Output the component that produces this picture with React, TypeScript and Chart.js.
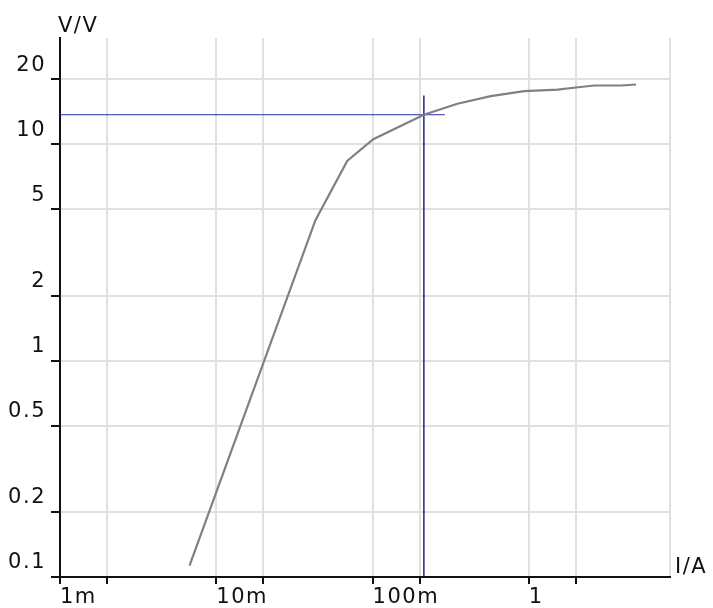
import React, { useEffect, useRef } from "react";
import { Chart, registerables } from "chart.js";

Chart.register(...registerables);

// ---- data ----
const currentA = [0.00674, 0.0431, 0.0688, 0.101, 0.213, 0.349, 0.57, 0.933, 1.53, 2.0, 2.62, 3.89, 4.85];
const voltageV = [0.113, 4.46, 8.37, 10.55, 13.7, 15.4, 16.7, 17.6, 17.9, 18.3, 18.7, 18.7, 18.9];

const xTickValues = [0.001, 0.002, 0.01, 0.02, 0.1, 0.2, 1, 2, 8];
const xTickLabels = ["1m", "", "10m", "", "100m", "", "1", "", ""];
const yTickValues = [0.1, 0.2, 0.5, 1, 2, 5, 10, 20];
const yTickLabels = ["0.1", "0.2", "0.5", "1", "2", "5", "10", "20"];

const xMin = 0.001;
const xMax = 8;
const yMin = 0.1;
const yMax = 31;

const cursorI = 0.213;
const cursorV = 13.7;
const cursorHEndI = 0.29;
const cursorVTopV = 16.8;

const xTitle = "I/A";
const yTitle = "V/V";

const FONT = '"DejaVu Sans", Verdana, sans-serif';
const FONT_SIZE = 21;
const SPACING = "1.5px";

const titlePlugin = {
  id: "axisTitles",
  beforeDraw(chart: any) {
    chart.ctx.letterSpacing = SPACING;
  },
  afterDraw(chart: any) {
    const ctx = chart.ctx;
    const { left, right, top, bottom } = chart.chartArea;
    ctx.save();
    ctx.letterSpacing = SPACING;
    ctx.font = `${FONT_SIZE}px ${FONT}`;
    ctx.fillStyle = "#111";
    ctx.textAlign = "left";
    ctx.textBaseline = "alphabetic";
    ctx.fillText(yTitle, left - 2, top - 6);
    ctx.fillText(xTitle, right + 5, bottom - 4);
    ctx.restore();
  },
};

export default function App() {
  const ref = useRef<HTMLCanvasElement | null>(null);

  useEffect(() => {
    if (!ref.current) return;
    const chart = new Chart(ref.current, {
      type: "line",
      data: {
        datasets: [
          {
            data: currentA.map((x, i) => ({ x, y: voltageV[i] })),
            borderColor: "#808080",
            borderWidth: 2.2,
            pointRadius: 0,
            tension: 0,
            fill: false,
          },
          {
            data: [
              { x: xMin, y: cursorV },
              { x: cursorHEndI, y: cursorV },
            ],
            borderColor: "#2a2aa6",
            borderWidth: 1.2,
            pointRadius: 0,
            fill: false,
          },
          {
            data: [
              { x: cursorI, y: yMin },
              { x: cursorI, y: cursorVTopV },
            ],
            borderColor: "#00007a",
            borderWidth: 1.3,
            pointRadius: 0,
            fill: false,
          },
        ],
      },
      options: {
        responsive: false,
        animation: false,
        events: [],
        layout: { padding: { top: 38, right: 43, left: 0, bottom: 0 } },
        plugins: {
          legend: { display: false },
          tooltip: { enabled: false },
        },
        scales: {
          x: {
            type: "logarithmic",
            min: xMin,
            max: xMax,
            afterBuildTicks: (scale: any) => {
              scale.ticks = xTickValues.map((v) => ({ value: v }));
            },
            afterFit: (scale: any) => {
              scale.height = 31;
            },
            grid: {
              color: "#e0e0e0",
              lineWidth: 2,
              tickLength: 7,
              tickWidth: 2,
              tickColor: (ctx: any) =>
                ctx.tick && ctx.tick.value === xMax ? "rgba(0,0,0,0)" : "#111",
            },
            border: { color: "#111", width: 2 },
            ticks: {
              autoSkip: false,
              maxRotation: 0,
              align: "start",
              padding: 1,
              color: "#111",
              font: { family: FONT, size: FONT_SIZE },
              callback: (_v: any, i: number) => xTickLabels[i],
            },
          },
          y: {
            type: "logarithmic",
            min: yMin,
            max: yMax,
            afterBuildTicks: (scale: any) => {
              scale.ticks = yTickValues.map((v) => ({ value: v }));
            },
            afterFit: (scale: any) => {
              scale.width = 60;
            },
            grid: {
              color: "#e0e0e0",
              lineWidth: 2,
              tickLength: 9,
              tickWidth: 2,
              tickColor: "#111",
            },
            border: { color: "#111", width: 2 },
            ticks: {
              autoSkip: false,
              padding: 5,
              labelOffset: -14,
              color: "#111",
              font: { family: FONT, size: FONT_SIZE },
              callback: (_v: any, i: number) => yTickLabels[i],
            },
          },
        },
      },
      plugins: [titlePlugin],
    } as any);
    return () => chart.destroy();
  }, []);

  return (
    <div style={{ position: "absolute", left: 0, top: 0, width: 713, height: 608 }}>
      <canvas ref={ref} width={713} height={608} style={{ display: "block" }} />
    </div>
  );
}
